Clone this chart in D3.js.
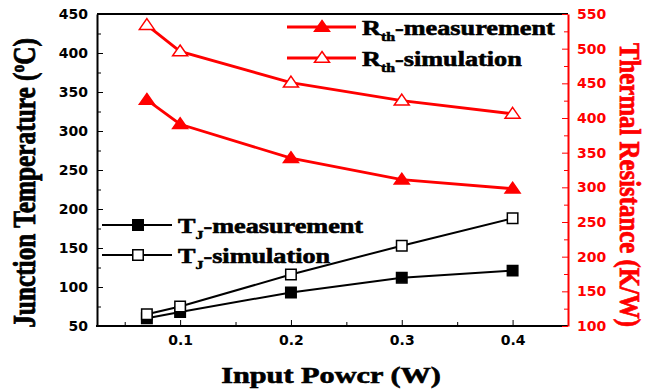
<!DOCTYPE html>
<html>
<head>
<meta charset="utf-8">
<script src="https://cdn.jsdelivr.net/npm/d3@7"></script>
<style>
  body { margin: 0; background: #fff; }
  svg { display: block; }
  .tick text { font-family: "DejaVu Sans", sans-serif; font-weight: bold; font-size: 14px; }
  .lbl { font-family: "Liberation Serif", serif; font-weight: bold; stroke-width: 0.6; }
</style>
</head>
<body>
<svg id="chart" width="648" height="392"></svg>
<script>
// data
const power = [0.07, 0.1, 0.2, 0.3, 0.4];
const tjMeasured = [60, 68, 93, 112, 121];
const tjSimulated = [65, 75, 116, 153, 188];
const rthMeasured = [426, 391, 342, 311, 298];
const rthSimulated = [534, 496, 451, 425, 406];

const xTicks = [0.1, 0.2, 0.3, 0.4];
const xMinor = [0.05, 0.15, 0.25, 0.35];
const tjTicks = [50, 100, 150, 200, 250, 300, 350, 400, 450];
const rthTicks = [100, 150, 200, 250, 300, 350, 400, 450, 500, 550];

const red = '#ff0000';
const svg = d3.select('#chart');
const plotL = 97, plotR = 568, plotT = 14, plotB = 326;

const x = d3.scaleLinear().domain([0.025, 0.45]).range([plotL, plotR]);
const yT = d3.scaleLinear().domain([50, 450]).range([plotB, plotT]);
const yR = d3.scaleLinear().domain([100, 550]).range([plotB, plotT]);

// the original figure is stretched sideways, so the triangles are too
const wideTriangle = {
  draw(ctx, size) {
    const w = Math.sqrt(size) * 1.5, h = w * 0.72;
    ctx.moveTo(0, -h * 0.6);
    ctx.lineTo(w / 2, h * 0.4);
    ctx.lineTo(-w / 2, h * 0.4);
    ctx.closePath();
  }
};

// top frame line
svg.append('line')
  .attr('x1', plotL).attr('x2', plotR)
  .attr('y1', plotT).attr('y2', plotT)
  .attr('stroke', '#000').attr('stroke-width', 2);

// minor ticks
svg.append('g').attr('transform', `translate(0,${plotB})`)
  .call(d3.axisBottom(x).tickValues(xMinor).tickSize(-4).tickFormat(''))
  .call(g => g.select('.domain').remove());
svg.append('g').attr('transform', `translate(${plotL},0)`)
  .call(d3.axisLeft(yT).tickValues(d3.range(75, 450, 50)).tickSize(-4).tickFormat(''))
  .call(g => g.select('.domain').remove());
svg.append('g').attr('transform', `translate(${plotR},0)`)
  .call(d3.axisRight(yR).tickValues(d3.range(125, 550, 50)).tickSize(-4).tickFormat(''))
  .call(g => g.select('.domain').remove())
  .selectAll('line').attr('stroke', red);

// main axes
svg.append('g').attr('transform', `translate(0,${plotB})`)
  .call(d3.axisBottom(x).tickValues(xTicks).tickSize(-6).tickSizeOuter(0).tickPadding(9).tickFormat(d3.format('.1f')))
  .call(g => g.select('.domain').attr('stroke-width', 2).attr('d', `M${plotL - 1},0H${plotR}`))
  .selectAll('text').attr('fill', '#000');

svg.append('g').attr('transform', `translate(${plotL},0)`)
  .call(d3.axisLeft(yT).tickValues(tjTicks).tickSize(-6).tickSizeOuter(0).tickPadding(9))
  .call(g => g.select('.domain').attr('stroke-width', 2))
  .selectAll('text').attr('fill', '#000');

const ra = svg.append('g').attr('transform', `translate(${plotR},0)`)
  .call(d3.axisRight(yR).tickValues(rthTicks).tickSize(-6).tickSizeOuter(0).tickPadding(9));
ra.select('.domain').attr('stroke', red).attr('stroke-width', 2);
ra.selectAll('line').attr('stroke', red);
ra.selectAll('text').attr('fill', red);

// series
const series = [
  { vals: tjMeasured, y: yT, color: '#000', shape: d3.symbolSquare, size: 110, filled: true, width: 2 },
  { vals: tjSimulated, y: yT, color: '#000', shape: d3.symbolSquare, size: 110, filled: false, width: 2 },
  { vals: rthMeasured, y: yR, color: red, shape: wideTriangle, size: 100, filled: true, width: 2.8 },
  { vals: rthSimulated, y: yR, color: red, shape: wideTriangle, size: 100, filled: false, width: 2.8 }
];

series.forEach(s => {
  const line = d3.line().x((d, i) => x(power[i])).y(d => s.y(d));
  svg.append('path')
    .attr('d', line(s.vals))
    .attr('fill', 'none')
    .attr('stroke', s.color)
    .attr('stroke-width', s.width);
  svg.selectAll(null)
    .data(s.vals)
    .enter()
    .append('path')
    .attr('d', d3.symbol(s.shape, s.size))
    .attr('transform', (d, i) => `translate(${x(power[i])},${s.y(d)})`)
    .attr('fill', s.filled ? s.color : '#fff')
    .attr('stroke', s.color)
    .attr('stroke-width', 1.5);
});

// legends
function legendRow(x1, x2, xm, y, s, main, sub, rest) {
  svg.append('line')
    .attr('x1', x1).attr('x2', x2).attr('y1', y).attr('y2', y)
    .attr('stroke', s.color).attr('stroke-width', s.width);
  svg.append('path')
    .attr('d', d3.symbol(s.shape, s.size))
    .attr('transform', `translate(${xm},${y})`)
    .attr('fill', s.filled ? s.color : '#fff')
    .attr('stroke', s.color)
    .attr('stroke-width', 1.5);
  const t = svg.append('text').attr('class', 'lbl')
    .attr('transform', `translate(${x2 + 6},${y + 8}) scale(1.22,1)`)
    .style('font-size', '21.5px').attr('fill', '#000').attr('stroke', '#000');
  t.append('tspan').text(main);
  t.append('tspan').text(sub).attr('dy', 6).style('font-size', '13px');
  t.append('tspan').text(rest).attr('dy', -6);
}

legendRow(102, 172, 138, 225, series[0], 'T', 'J', '-measurement');
legendRow(102, 172, 138, 255, series[1], 'T', 'J', '-simulation');
legendRow(287, 356, 322, 27, series[2], 'R', 'th', '-measurement');
legendRow(287, 356, 322, 58, series[3], 'R', 'th', '-simulation');

// axis titles
svg.append('text').attr('class', 'lbl')
  .attr('transform', 'translate(331,383) scale(1.34,1)')
  .attr('text-anchor', 'middle')
  .attr('stroke', '#000')
  .style('font-size', '22.6px')
  .text('Input Powcr (W)');

const yl = svg.append('text').attr('class', 'lbl')
  .attr('transform', 'translate(35,183) rotate(-90) scale(1.1,1.36)')
  .attr('text-anchor', 'middle')
  .attr('stroke', '#000')
  .style('font-size', '23px');
yl.append('tspan').text('Junction Temperature (');
yl.append('tspan').text('o').attr('dy', -8).style('font-size', '14px');
yl.append('tspan').text('C)').attr('dy', 8);

svg.append('text').attr('class', 'lbl')
  .attr('transform', 'translate(620,185) rotate(90) scale(1.08,1.3)')
  .attr('text-anchor', 'middle')
  .attr('fill', red)
  .attr('stroke', red)
  .style('font-size', '23px')
  .text('Thermal Resistance (K/W)');
</script>
</body>
</html>
